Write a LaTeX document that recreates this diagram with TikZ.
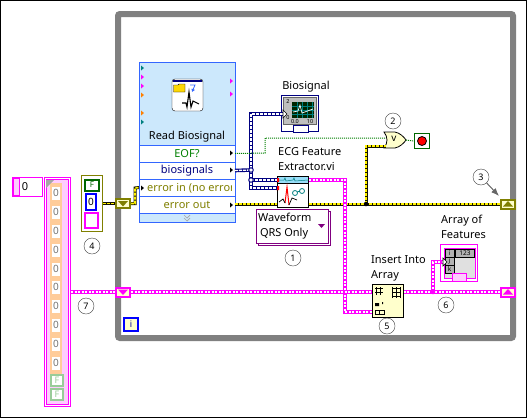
\documentclass[tikz,border=0pt]{standalone}
\usepackage{fontspec}
\setmainfont{Noto Sans}
\usetikzlibrary{calc,positioning,arrows.meta}
\definecolor{wy}{RGB}{128,128,0}
\definecolor{wp}{RGB}{255,0,255}
\definecolor{wb}{RGB}{0,0,128}
\definecolor{wg}{RGB}{0,128,0}
\definecolor{wt}{RGB}{0,128,128}
\definecolor{lb}{RGB}{204,232,252}
\definecolor{fr}{RGB}{51,102,255}
\definecolor{ly}{RGB}{255,255,204}
\definecolor{pe}{RGB}{255,204,153}
\definecolor{lg}{RGB}{153,204,153}
\definecolor{vio}{RGB}{128,0,128}
\definecolor{lp}{RGB}{255,204,255}
\begin{document}
\begin{tikzpicture}[x=1pt,y=-1pt,
  lbl/.style={inner sep=0pt, anchor=west, align=left, font=\fontsize{11}{15}\selectfont},
  num/.style={draw=black!75, circle, fill=white, minimum size=16pt, inner sep=0pt, font=\fontsize{9}{9}\selectfont},
  row/.style={draw=fr, fill=white, minimum width=96pt, minimum height=17pt, inner sep=0pt, outer sep=0pt, font=\fontsize{11}{11}\selectfont},
  tunnel/.style={draw=#1, line width=2pt, fill=ly, minimum width=14pt, minimum height=9pt, inner sep=0pt},
  elem/.style={fill=white, minimum width=8pt, minimum height=13pt, inner sep=0pt, text=black!55, font=\fontsize{10}{10}\selectfont},
  fbox/.style={draw=lg, line width=2pt, fill=white, minimum width=12pt, minimum height=11pt, inner sep=0pt, text=lg, font=\bfseries\fontsize{9}{9}\selectfont},
  idx/.style={draw=black, fill=black!30, minimum width=9pt, minimum height=8pt, inner sep=0pt, outer sep=0pt, font=\fontsize{6.5}{6.5}\selectfont},
  pwire/.style={draw=wp, line width=4pt, postaction={draw=white, line width=1.3pt, dash pattern=on 2pt off 1.5pt}},
  bwire/.style={draw=wb, line width=3.6pt, postaction={draw=white, line width=1.3pt, dash pattern=on 3pt off 1pt}},
  ywire/.style={draw=black!85!wy, line width=3pt, postaction={draw=yellow, line width=1.6pt, dash pattern=on 3pt off 1pt}},
  gwire/.style={draw=wg, dash pattern=on 1pt off 1pt, line width=1pt},
  dotnode/.style={circle, inner sep=0pt, minimum size=#1}
]
\useasboundingbox (0,0) rectangle (527,418);
\fill[white] (0,0) rectangle (527,418);
\draw[black, line width=1pt] (0.5,0.5) -- (526.5,0.5) -- (526.5,417) -- (0.5,417) -- cycle;

% while loop
\draw[draw=black!50, line width=6pt, rounded corners=2pt] (118,14) rectangle (513,338);
\node[draw=blue, line width=2pt, fill=ly, minimum width=14pt, minimum height=13pt, inner sep=0pt, font=\bfseries\fontsize{9}{9}\selectfont, text=blue!60!black] (iter) at (131,324.5) {i};

% numeric control
\node[draw=wp, line width=1pt, fill=white, minimum width=30pt, minimum height=19pt, inner sep=0pt] (ctl) at (27.5,187) {};
\node[draw=wp, fill=lp, minimum width=6pt, minimum height=17pt, inner sep=0pt] (spin) at (16,187) {};
\node[inner sep=0pt, font=\fontsize{11}{11}\selectfont] (ctlval) at (25,187) {0};

% array constant
\node[draw=wp, line width=1pt, fill=white, minimum width=26pt, minimum height=229pt, inner sep=0pt] (arr) at (57.5,292) {};
\node[draw=wp, line width=1pt, fill=lp, minimum width=22pt, minimum height=225pt, inner sep=0pt] (arrin) at (57.5,292) {};
\fill[pe] (50,183) rectangle (62,374);
\fill[black!35] (46,180) -- (54,180) -- (46,188) -- cycle;
\foreach \y/\n in {193/a,212/b,231/c,250/d,269/e,287/f,306/g,325/h,344/i,363/j} {
  \node[elem] (el\n) at (56,\y) {0};
}
\node[fbox] (fa) at (57,380) {F};
\node[fbox] (fb) at (57,394) {F};

% cluster constant
\node[draw=wy, line width=1pt, fill=white, minimum width=21pt, minimum height=56pt, inner sep=0pt] (clu) at (92,203.5) {};
\node[draw=green!40!black, line width=2pt, fill=white, minimum width=14pt, minimum height=11pt, inner sep=0pt, text=green!40!black, font=\bfseries\fontsize{8}{8}\selectfont] (cluf) at (92,185) {F};
\node[draw=blue, line width=2pt, fill=white, minimum width=10pt, minimum height=16pt, inner sep=0pt, font=\fontsize{10}{10}\selectfont] (clun) at (91,201.5) {0};
\node[draw=wp, line width=2pt, fill=white, minimum width=13pt, minimum height=15pt, inner sep=0pt] (clus) at (91.5,220) {};

% express vi
\node[draw=fr, fill=lb, minimum width=96pt, minimum height=83pt, inner sep=0pt, outer sep=0pt] (vi) at (187,103.5) {};
\node[row, text=wg, below=0pt of vi] (eof) {EOF?};
\node[row, text=wb, below=0pt of eof] (bio) {biosignals};
\node[row, below=0pt of bio] (err) {};
\node[row, text=wy, below=0pt of err] (erro) {error out};
\node[draw=fr, fill=lb, minimum width=96pt, minimum height=9pt, inner sep=0pt, outer sep=0pt, below=0pt of erro] (foot) {};
\begin{scope}
\clip (146,180) rectangle (231,195);
\node[inner sep=0pt, anchor=west, text=wy, font=\fontsize{11}{11}\selectfont] (errlbl) at (147,188) {error in (no error};
\end{scope}
\node[inner sep=0pt, font=\fontsize{11}{11}\selectfont] (vilbl) at (187,137) {Read Biosignal};
\node[draw=black, fill=white, rounded corners=3pt, minimum width=31pt, minimum height=32pt, inner sep=0pt] (icon) at (187.5,95) {};
\fill[wb] (173,79.5) rectangle (202,81.5);
\fill[yellow!75!orange, draw=black] (173.5,85) -- (178,85) -- (179,84) -- (185,84) -- (185,92) -- (173.5,92) -- cycle;
\draw[fr, line width=0.8pt, -{Latex[length=3pt,width=4pt]}] (190,85) -- (195,85) -- (192,92);
\draw[line width=1.1pt] (182,103) -- (186,103) -- (187,107) -- (189,92) -- (191,107) -- (193,101) -- (199,104);
\draw[black!35, line width=0.7pt] (184,215) -- (187,218) -- (190,215) (184,218) -- (187,221) -- (190,218);
\foreach \y/\c in {68/wt,77/wp,86/wp,95/orange,113/orange,122/wt} {
  \fill[\c] (141,\y-2.5) -- (144,\y) -- (141,\y+2.5) -- cycle;
}
\foreach \y in {81,94} { \fill[wp] (230,\y-2.5) -- (233,\y) -- (230,\y+2.5) -- cycle; }
\foreach \y in {153,170,205} { \fill[black] (230,\y-2.5) -- (233,\y) -- (230,\y+2.5) -- cycle; }
\fill[black] (141,185.5) -- (144,188) -- (141,190.5) -- cycle;

% tunnels
\node[tunnel=wy] (tyin) at (123,203.5) {};
\node[tunnel=wp] (tpin) at (123,292) {};
\node[tunnel=wy] (tyout) at (508,204) {};
\node[tunnel=wp] (tpout) at (508,292) {};
\fill[wy] (118,201) -- (128,201) -- (123,206.5) -- cycle;
\fill[wp] (118,289.5) -- (128,289.5) -- (123,295) -- cycle;
\fill[wy] (503,206.5) -- (513,206.5) -- (508,201) -- cycle;
\fill[wp] (503,294.5) -- (513,294.5) -- (508,289) -- cycle;

% graph indicator
\node[draw=wb, line width=1pt, fill=white, minimum width=37pt, minimum height=36pt, inner sep=0pt] (graph) at (300,113.5) {};
\node[fill=black!25, draw=black!60, minimum width=33pt, minimum height=27pt, inner sep=0pt] (graphin) at (300,110.5) {};
\node[fill=black!85!green, minimum width=22pt, minimum height=16pt, inner sep=0pt] (screen) at (303,110) {};
\foreach \x in {297,302,307,312} { \draw[wt, line width=0.5pt] (\x,102) -- (\x,118); }
\foreach \y in {106,110,114} { \draw[wt, line width=0.5pt] (292,\y) -- (314,\y); }
\draw[white, line width=0.7pt] (293,112) -- (298,111) -- (300,105) -- (302,113) -- (313,109);
\node[inner sep=0pt, font=\fontsize{5.5}{5.5}\selectfont] (ga) at (288,102) {2};
\node[inner sep=0pt, font=\fontsize{5.5}{5.5}\selectfont] (gb) at (288,118) {0};
\node[inner sep=0pt, font=\fontsize{5.5}{5.5}\selectfont] (gc) at (295,122) {0.0};
\node[inner sep=0pt, font=\fontsize{5.5}{5.5}\selectfont] (gd) at (310,122) {10};
\node[draw=wb, fill=white, minimum width=15pt, minimum height=7pt, inner sep=0pt] (gbtn) at (300.5,128.5) {};
\node[lbl, anchor=center] (graphlbl) at (306,87) {Biosignal};

% subvi
\node[draw=black, line width=1pt, fill=white, minimum width=31pt, minimum height=31pt, inner sep=0pt] (ecg) at (293,192) {};
\fill[cyan!40, draw=black, line width=0.4pt] (277.5,176.5) rectangle (308.5,183);
\draw[wt, line width=0.5pt] (278,180) -- (284,180) -- (285,178) -- (286,181) -- (293,180) -- (294,178) -- (295,181) -- (308,180);
\draw[red, line width=1pt] (285,203) -- (287,187) -- (289,205);
\draw[line width=0.7pt] (279,202) -- (283,199) -- (285,203) (289,205) -- (292,198) -- (297,200);
\draw[wt, line width=0.8pt] (295,193) circle (2.5pt) (302,191) circle (2.5pt) (297,192) -- (300,191);
\fill[red] (276,178) rectangle (279,182) (276,186) rectangle (279,190);
\node[lbl] (ecglbl) at (278,159.5) {ECG Feature\\Extractor.vi};

% ring constant
\node[draw=vio, line width=1pt, fill=white, minimum width=72pt, minimum height=34pt, inner sep=0pt] (ringb) at (294,228) {};
\node[draw=vio, line width=1pt, fill=white, minimum width=72pt, minimum height=34pt, inner sep=0pt] (ring) at (292,226) {};
\node[lbl] (ringlbl) at (258,226.5) {Waveform\\\,QRS Only};
\fill[vio] (318,224) -- (325,224) -- (321.5,228) -- cycle;

% or gate, stop
\filldraw[draw=black, fill=ly, line width=0.8pt] (384,132) -- (395,132) .. controls (400,133) and (404,137) .. (406,140) .. controls (404,143) and (400,147) .. (395,148) -- (384,148) .. controls (388,143) and (388,137) .. (384,132) -- cycle;
\node[font=\bfseries\fontsize{10}{10}\selectfont, inner sep=0pt] (orv) at (394,139) {v};
\coordinate (orout) at (406,140);
\coordinate (orina) at (386,138);
\coordinate (orinb) at (386,146);
\node[draw=green!40!black, line width=1pt, fill=white, minimum size=15pt, inner sep=0pt] (stp) at (422,141) {};
\node[circle, fill=red, draw=black, line width=0.8pt, minimum size=9pt, inner sep=0pt] (stpin) at (422,141) {};

% insert into array
\node[draw=black, line width=1pt, fill=ly, minimum width=31pt, minimum height=33pt, inner sep=0pt] (ins) at (387.5,300.5) {};
\draw[line width=0.6pt, fill=white] (375,287) grid[step=4pt] (383,295);
\draw[line width=0.6pt, fill=white] (392,287) grid[step=4pt] (400,298);
\fill (375,303) rectangle (379,306) (382,302) rectangle (383,304);
\draw[line width=0.6pt] (375,310) rectangle (384,314) (379.5,310) -- (379.5,314);
\node[lbl] (inslbl) at (371,268.5) {Insert Into\\Array};

% array indicator
\node[draw=wp, line width=1pt, fill=white, minimum width=37pt, minimum height=37pt, inner sep=0pt] (feat) at (459,263) {};
\node[draw=wp, fill=black!12, minimum width=31pt, minimum height=30pt, inner sep=0pt] (featbg) at (459.5,263) {};
\node[idx] (fi) at (449.5,253) {i};
\node[idx, below=0pt of fi] (fj) {j};
\node[idx, below=0pt of fj] (fk) {k};
\node[draw=black, fill=black!30, minimum width=19pt, minimum height=8pt, inner sep=0pt, font=\bfseries\fontsize{6.5}{6.5}\selectfont] (fnum) at (465,253.5) {123};
\node[draw=wp, line width=1pt, fill=lp, minimum width=14pt, minimum height=8pt, inner sep=0pt] (fbtn) at (459.5,277.5) {};
\node[lbl] (featlbl) at (441,226.5) {Array of\\Features};

% wires
\coordinate (jy) at (366,204);
\coordinate (jp) at (433,292);
\coordinate (jba) at (251,170);
\coordinate (jbb) at (251,180);
\coordinate (grin) at (283,114);
\coordinate (featin) at (443,262);
\draw[ywire] (clu.east |- tyin) -- (tyin.west);
\draw[ywire] (tyin.east) -- (135,203.5) -- (135,188) -- (err.west);
\draw[ywire] (erro.east |- jy) -- (ecg.west |- jy);
\draw[ywire] (ecg.east |- jy) -- (jy) -- (tyout.west);
\draw[ywire] (jy) -- (366,146) -- (orinb);
\draw[pwire] (ecg.east |- jbb) -- (345,180) -- (345,312) -- (ins.west |- 0,312);
\draw[pwire] (arr.east |- tpin) -- (tpin.west);
\draw[pwire] (tpin.east) -- (ins.west |- tpin);
\draw[pwire] (ins.east |- jp) -- (jp) -- (tpout.west);
\draw[pwire] (jp) -- (433,262) -- (featin);
\draw[bwire] (bio.east) -- (jba);
\draw[bwire] (grin) -- (251,114) -- (251,188) -- (ecg.west |- 0,188);
\draw[bwire] (jbb) -- (ecg.west |- jbb);
\draw[gwire] (eof.east) -- (265,153) -- (265,138) -- (orina);
\draw[gwire] (orout) -- (stp.west);
\fill[white, draw=black, line width=0.6pt] (283,110) -- (287,114) -- (283,118) -- cycle;
\fill[white, draw=black, line width=0.6pt] (443,258) -- (447,262) -- (443,266) -- cycle;
\node[dotnode=4.5pt, fill=black] (dy) at (jy) {};
\node[dotnode=4.5pt, fill=wp] (dp) at (jp) {};
\node[dotnode=4.5pt, draw=wb, line width=1pt, fill=white] (dba) at (jba) {};
\node[dotnode=4.5pt, draw=wb, line width=1pt, fill=white] (dbb) at (jbb) {};

% numbered callouts
\node[num] (n1) at (293,258) {1};
\node[num] (n2) at (393,121) {2};
\node[num] (n3) at (481,177) {3};
\node[num] (n4) at (92,246) {4};
\node[num] (n5) at (387,326) {5};
\node[num] (n6) at (446,305) {6};
\node[num] (n7) at (86,306) {7};
\coordinate (n3tip) at (499,196);
\draw[-{Latex[length=8pt,width=6pt]}, line width=0.9pt, draw=black!60, fill=black] (n3) -- (n3tip);
\end{tikzpicture}
\end{document}
